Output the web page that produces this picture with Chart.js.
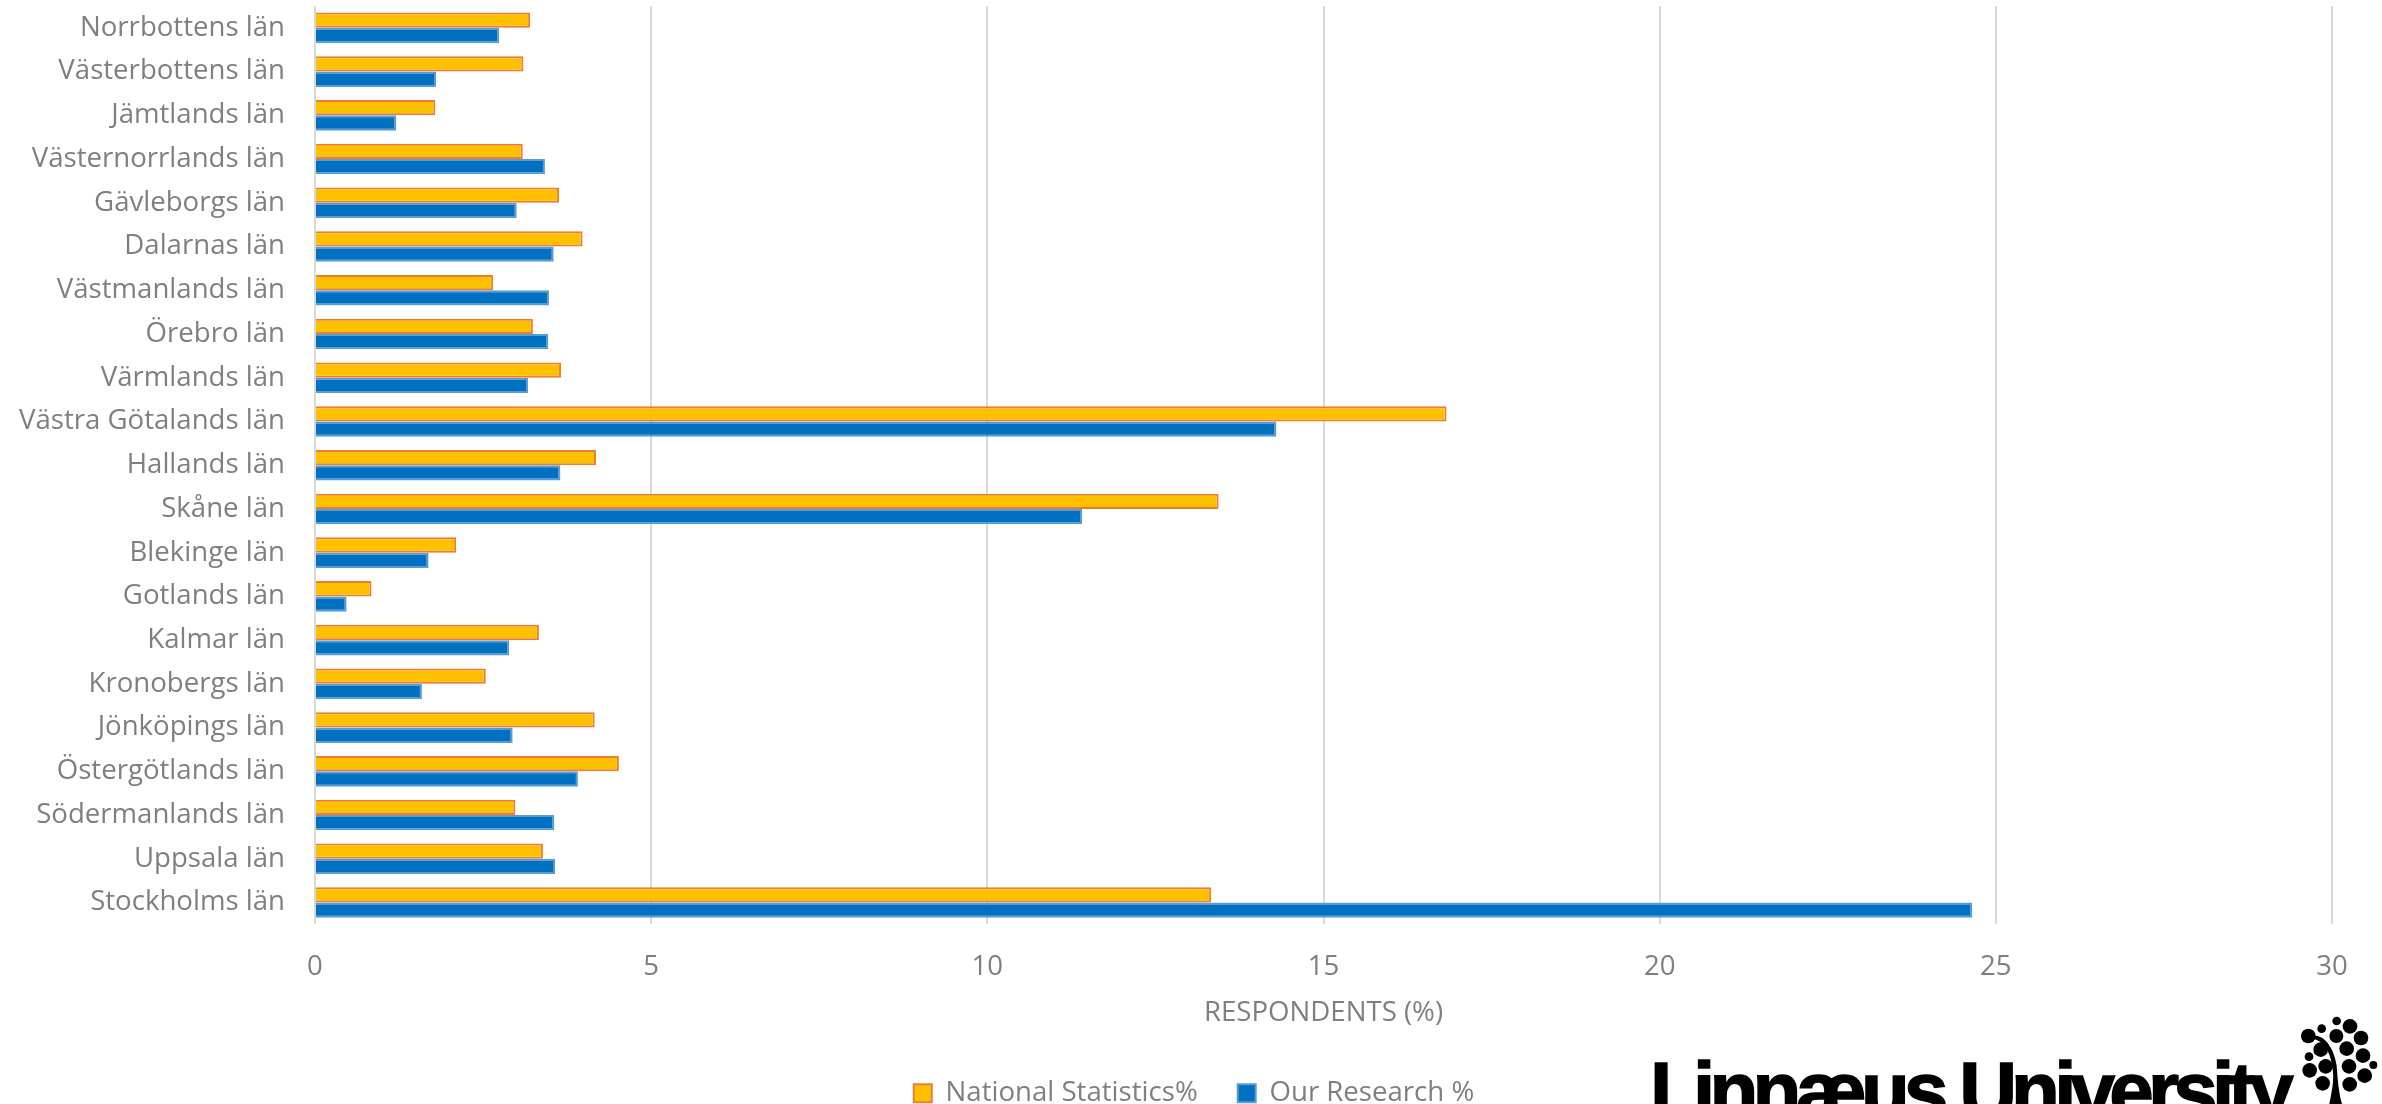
<!DOCTYPE html>
<html>
<head>
<meta charset="utf-8">
<title>Respondents per county</title>
<script src="https://cdn.jsdelivr.net/npm/chart.js@4/dist/chart.umd.min.js"></script>
<style>
  html, body { margin: 0; padding: 0; background: #fff; overflow: hidden; }
  #wrap { position: relative; width: 2382px; height: 1104px; overflow: hidden; }
  #graph1 { display: block; }
  #logoText {
    position: absolute; left: 1650px; top: 1051px; white-space: nowrap;
    font: bold 80px "Liberation Sans", sans-serif; letter-spacing: -5.8px; color: #000; line-height: 1;
    -webkit-text-stroke: 1.5px #000;
  }
  #logoTree { position: absolute; left: 2290px; top: 1004px; }
</style>
</head>
<body>
<div id="wrap">
  <canvas id="graph1" width="2382" height="1104"></canvas>
  <div id="logoText">Linnæus University</div>
  <svg id="logoTree" width="92" height="100" viewBox="0 0 276 300" fill="#000">
    <path d="M68,95 C100,92 130,125 140,185 C143,230 147,270 156,300 L118,300 C125,265 133,230 128,195 C123,145 100,108 68,105 Z"/>
    <circle cx="55" cy="96" r="22"/><circle cx="95" cy="74" r="13"/>
    <circle cx="140" cy="51" r="13"/><circle cx="180" cy="67" r="22"/>
    <circle cx="139" cy="96" r="21"/><circle cx="213" cy="102" r="22"/>
    <circle cx="92" cy="137" r="22"/><circle cx="170" cy="134" r="22"/>
    <circle cx="219" cy="155" r="22"/><circle cx="57" cy="158" r="13"/>
    <circle cx="59" cy="199" r="22"/><circle cx="107" cy="187" r="22"/>
    <circle cx="177" cy="187" r="22"/><circle cx="250" cy="183" r="12"/>
    <circle cx="224" cy="215" r="22"/><circle cx="98" cy="238" r="22"/>
    <circle cx="179" cy="241" r="22"/>
  </svg>
</div>
<script>
const counties = ['Norrbottens län', 'Västerbottens län', 'Jämtlands län', 'Västernorrlands län', 'Gävleborgs län', 'Dalarnas län', 'Västmanlands län', 'Örebro län', 'Värmlands län', 'Västra Götalands län', 'Hallands län', 'Skåne län', 'Blekinge län', 'Gotlands län', 'Kalmar län', 'Kronobergs län', 'Jönköpings län', 'Östergötlands län', 'Södermanlands län', 'Uppsala län', 'Stockholms län']
const nationalStats = [3.20, 3.10, 1.79, 3.09, 3.63, 3.98, 2.65, 3.24, 3.66, 16.83, 4.18, 13.44, 2.10, 0.84, 3.33, 2.54, 4.16, 4.52, 2.98, 3.39, 13.33]
const ourResearch = [2.74, 1.80, 1.21, 3.42, 3.00, 3.55, 3.48, 3.47, 3.17, 14.30, 3.65, 11.41, 1.69, 0.47, 2.89, 1.59, 2.94, 3.91, 3.56, 3.57, 24.65]

const grey = '#7f7f7f'
const fontName = '"Open Sans", sans-serif'

// nudges the legend after layout so it doesn't change the plot size
const moveLegend = {
  id: 'moveLegend',
  afterLayout(chart) {
    const lg = chart.legend
    lg.left += 28
    lg.right += 28
    lg.top += 7
    lg.bottom += 7
  }
}

new Chart(document.getElementById('graph1'), {
  type: 'bar',
  plugins: [moveLegend],
  data: {
    labels: counties,
    datasets: [
      { label: 'National Statistics%', data: nationalStats, backgroundColor: '#FFC000', borderColor: '#ED7D31', borderWidth: 2 },
      { label: 'Our Research %', data: ourResearch, backgroundColor: '#0070C0', borderColor: '#5B9BD5', borderWidth: 2 }
    ]
  },
  options: {
    indexAxis: 'y',
    responsive: false,
    animation: false,
    layout: { padding: { top: 6, right: 50, bottom: -6, left: 0 } },
    datasets: { bar: { categoryPercentage: 0.7, barPercentage: 1 } },
    scales: {
      x: {
        min: 0, max: 30,
        ticks: { stepSize: 5, color: grey, padding: 26, maxRotation: 0, font: { family: fontName, size: 27.6 } },
        grid: { color: '#d9d9d9', lineWidth: 2, drawTicks: false },
        border: { display: false },
        title: { display: true, text: 'RESPONDENTS (%)', color: grey, font: { family: fontName, size: 27.6 }, padding: { top: 14, bottom: 3 } },
        afterFit: scale => { scale.height = 108 }
      },
      y: {
        ticks: { color: grey, padding: 30, autoSkip: false, font: { family: fontName, size: 27.6 } },
        grid: { display: false, drawTicks: false },
        border: { display: false },
        // tick padding would otherwise push the plot area down from the top
        afterFit: scale => {
          scale.width = 315
          scale.paddingTop = 0
          scale.paddingBottom = 0
        }
      }
    },
    plugins: {
      tooltip: { enabled: false },
      legend: {
        position: 'bottom',
        labels: { color: grey, boxWidth: 18, boxHeight: 18, padding: 40, font: { family: fontName, size: 27.6 } }
      }
    }
  }
})
</script>
</body>
</html>
